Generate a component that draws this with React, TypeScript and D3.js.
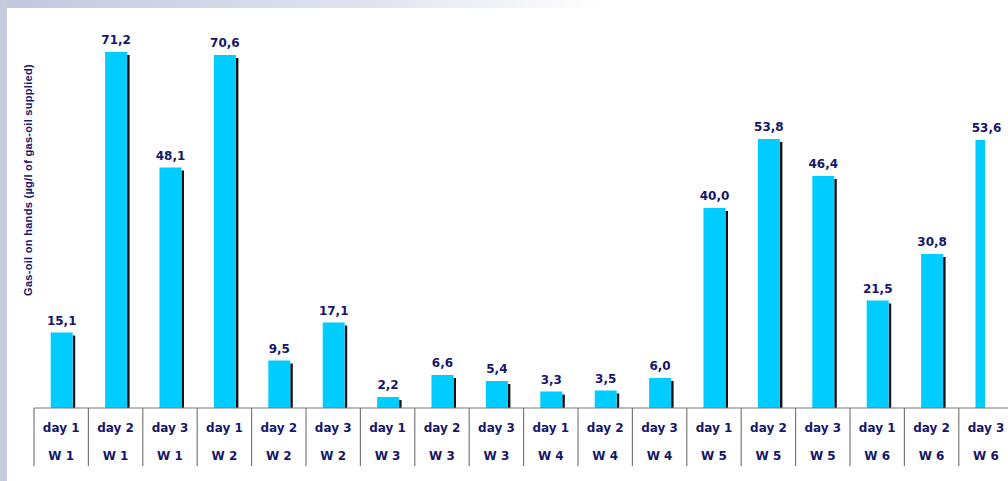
import React from "react";
import * as d3 from "d3";

const days = ["day 1", "day 2", "day 3", "day 1", "day 2", "day 3", "day 1", "day 2", "day 3", "day 1", "day 2", "day 3", "day 1", "day 2", "day 3", "day 1", "day 2", "day 3"];
const weeks = ["W 1", "W 1", "W 1", "W 2", "W 2", "W 2", "W 3", "W 3", "W 3", "W 4", "W 4", "W 4", "W 5", "W 5", "W 5", "W 6", "W 6", "W 6"];
const values = [15.1, 71.2, 48.1, 70.6, 9.5, 17.1, 2.2, 6.6, 5.4, 3.3, 3.5, 6.0, 40.0, 53.8, 46.4, 21.5, 30.8, 53.6];
const yTitle = "Gas-oil on hands (µg/l of gas-oil supplied)";

const W = 1008;
const H = 481;
const NAVY = "#16166a";
const FONT = "'DejaVu Sans', Verdana, sans-serif";

export default function App() {
  const idx = values.map((_, i) => i);
  const x = d3.scaleBand<number>().domain(idx).range([34, 34 + 18 * 54.4]).paddingInner(0).paddingOuter(0);
  const y = d3.scaleLinear().domain([0, 80]).range([408, 8]);
  const barW = 22;
  const fmt = (v: number) => v.toFixed(1).replace(".", ",");

  return (
    <svg width={W} height={H} style={{ position: "absolute", left: 0, top: 0, display: "block" }}>
      <defs>
        <linearGradient id="topg" x1="0" x2="1" y1="0" y2="0">
          <stop offset="0" stopColor="#c3c7dd" />
          <stop offset="0.35" stopColor="#dfe2ee" />
          <stop offset="0.6" stopColor="#ffffff" />
        </linearGradient>
        <clipPath id="plotclip">
          <rect x={0} y={0} width={985} height={H} />
        </clipPath>
      </defs>
      <rect x={0} y={0} width={W} height={H} fill="#ffffff" />
      <rect x={0} y={0} width={W} height={8} fill="url(#topg)" />
      <rect x={0} y={0} width={7} height={H} fill="#c6cadf" />

      <text
        transform={`translate(32,180) rotate(-90)`}
        textAnchor="middle"
        fontFamily="'Liberation Sans', Arial, sans-serif"
        fontWeight="bold"
        fontSize={11}
        fill={NAVY}
        letterSpacing={0.3}
      >
        {yTitle}
      </text>

      <g clipPath="url(#plotclip)">
        {values.map((v, i) => {
          const cx = (x(i) as number) + x.bandwidth() / 2 + 0.5;
          const top = y(v);
          return (
            <g key={i}>
              <rect x={cx + barW / 2} y={top + 3} width={2.5} height={y(0) - top - 3} fill="#111111" />
              <rect x={cx - barW / 2} y={top} width={barW} height={y(0) - top} fill="#00ccff" />
            </g>
          );
        })}
      </g>
      {values.map((v, i) => {
        const cx = (x(i) as number) + x.bandwidth() / 2 + 0.5;
        return (
          <text key={i} x={cx} y={y(v) - 8} textAnchor="middle" fontFamily={FONT} fontWeight="bold" fontSize={12} fill={NAVY}>
            {fmt(v)}
          </text>
        );
      })}

      <line x1={34} x2={W} y1={408} y2={408} stroke="#7a7a7a" strokeWidth={1.2} />
      {idx.map((i) => (
        <line key={i} x1={(x(i) as number)} x2={(x(i) as number)} y1={408} y2={466} stroke="#7a7a7a" strokeWidth={1.2} />
      ))}
      {idx.map((i) => {
        const cx = (x(i) as number) + x.bandwidth() / 2;
        return (
          <g key={i} fontFamily={FONT} fontWeight="bold" fontSize={12} fill={NAVY} textAnchor="middle">
            <text x={cx} y={432}>{days[i]}</text>
            <text x={cx} y={460}>{weeks[i]}</text>
          </g>
        );
      })}
    </svg>
  );
}
